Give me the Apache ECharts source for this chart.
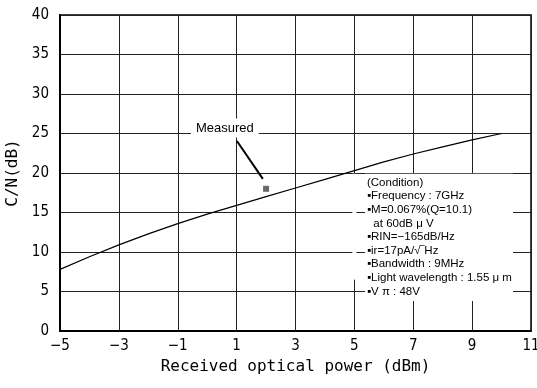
<!DOCTYPE html>
<html><head><meta charset="utf-8">
<script src="https://cdn.jsdelivr.net/npm/echarts@6/dist/echarts.min.js"></script>
<style>html,body{margin:0;padding:0;background:#fff}#c{width:537px;height:388px}</style>
</head><body><div id="c"></div>
<script>
// Data
const powerDbm = [-5, -4, -3, -2, -1, 0, 1, 2, 3, 4, 5, 6, 7, 8, 9, 10];
const cnDb     = [7.8, 9.4, 10.9, 12.3, 13.6, 14.8, 15.9, 17.0, 18.1, 19.2, 20.3, 21.4, 22.4, 23.3, 24.2, 25.0];
const measuredX = [2];
const measuredY = [18];
const measuredLabel = 'Measured';
const arrowFrom = [1.01, 24.05];
const arrowTo = [1.89, 19.25];
const labelAt = [0.6, 25.7];
const conditionLines = [
  '(Condition)',
  '\u25AAFrequency : 7GHz',
  '\u25AAM=0.067%(Q=10.1)',
  '\u00A0\u00A0at 60dB \u03BC V',
  '\u25AARIN=\u2212165dB/Hz',
  '\u25AAir=17pA/\u221A\u203EHz',
  '\u25AABandwidth : 9MHz',
  '\u25AALight wavelength : 1.55 \u03BC m',
  '\u25AAV \u03C0 : 48V'
];
const conditionBoxFrom = [5.36, 19.9];
const conditionBoxTo = [10.39, 3.8];
const xAxisTitle = 'Received optical power (dBm)';
const yAxisTitle = 'C/N(dB)';

const chart = echarts.init(document.getElementById('c'), null, {renderer: 'canvas'});
const tickFont = {fontFamily: "'Liberation Sans Narrow','DejaVu Sans Condensed',sans-serif", fontSize: 15, color: '#000'};
const fmt = v => (v < 0 ? '\u2212' + Math.abs(v) : String(v));

chart.setOption({
  animation: false,
  grid: {left: 60, right: 6, top: 15, bottom: 57, containLabel: false, outerBoundsMode: 'none',
    show: true, borderColor: '#000', borderWidth: 1.5, backgroundColor: 'transparent'},
  xAxis: {
    type: 'value', min: -5, max: 11, interval: 2,
    name: xAxisTitle, nameLocation: 'middle', nameGap: 27,
    nameTextStyle: {fontFamily: "'DejaVu Sans Mono',monospace", fontSize: 16, color: '#000'},
    axisLine: {show: true, onZero: false, lineStyle: {color: '#000', width: 2}},
    axisTick: {show: false},
    axisLabel: Object.assign({margin: 8, formatter: fmt, hideOverlap: false}, tickFont),
    splitLine: {show: true, lineStyle: {color: '#222', width: 1}}
  },
  yAxis: {
    type: 'value', min: 0, max: 40, interval: 5,
    name: yAxisTitle, nameLocation: 'middle', nameGap: 28,
    nameTextStyle: {fontFamily: "'DejaVu Sans Mono',monospace", fontSize: 16, color: '#000'},
    axisLine: {show: true, onZero: false, lineStyle: {color: '#000', width: 2}},
    axisTick: {show: false},
    axisLabel: Object.assign({margin: 11, formatter: fmt}, tickFont),
    splitLine: {show: true, lineStyle: {color: '#222', width: 1}}
  },
  series: [
    {
      type: 'line', data: powerDbm.map((x, i) => [x, cnDb[i]]),
      showSymbol: false, symbol: 'none', smooth: false,
      lineStyle: {color: '#000', width: 1.2}, z: 3
    },
    {
      type: 'scatter', data: measuredX.map((x, i) => [x, measuredY[i]]),
      symbol: 'rect', symbolSize: 6, itemStyle: {color: '#444'}, z: 4,
      markLine: {
        silent: true, animation: false,
        symbol: ['none', 'arrow'], symbolSize: [0, 10],
        lineStyle: {color: '#000', width: 2, type: 'solid'},
        label: {show: false},
        data: [[{coord: arrowFrom}, {coord: arrowTo}]]
      }
    }
  ]
});

function px(p) { return chart.convertToPixel({gridIndex: 0}, p); }
const b0 = px(conditionBoxFrom), b1 = px(conditionBoxTo);
const lp = px(labelAt);
const x5top = px([5, 19.9]), x5bot = px([5, 6.5]);

chart.setOption({
  graphic: [
    {type: 'rect', z: 10, shape: {x: b0[0], y: b0[1], width: b1[0] - b0[0], height: b1[1] - b0[1]}, style: {fill: '#fff'}},
    {type: 'rect', z: 10, shape: {x: x5top[0] - 2, y: x5top[1], width: 4, height: x5bot[1] - x5top[1]}, style: {fill: '#fff'}},
    {type: 'text', z: 11, left: b0[0] + 2, top: b0[1] + 2,
      style: {text: conditionLines.join('\n'), font: "11.5px 'Liberation Sans', 'DejaVu Sans', sans-serif", lineHeight: 13.6, fill: '#000'}},
    {type: 'text', z: 11, x: lp[0], y: lp[1],
      style: {text: measuredLabel, font: "13px 'Liberation Sans', Arial, sans-serif", fill: '#000', align: 'center', verticalAlign: 'middle',
        backgroundColor: '#fff', padding: [3, 5]}}
  ]
});
</script>
</body></html>
